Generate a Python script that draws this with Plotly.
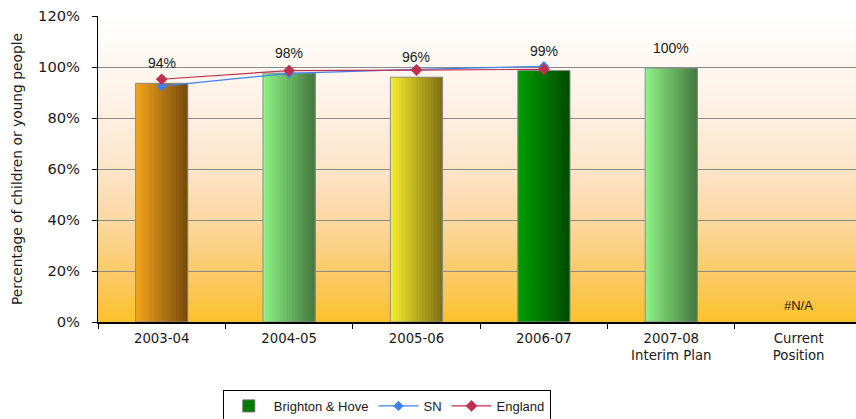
import base64
import struct
import zlib

import plotly.graph_objects as go

# ---------------- data ----------------
categories = ["2003-04", "2004-05", "2005-06", "2006-07",
              "2007-08<br>Interim Plan", "Current<br>Position"]
bh_values = [0.936, 0.976, 0.960, 0.986, 0.996, None]
bh_labels = ["94%", "98%", "96%", "99%", "100%", "#N/A"]
sn_values = [0.925, 0.975, 0.991, 1.003, None, None]
england_values = [0.952, 0.986, 0.988, 0.991, None, None]
y_tick_values = [0, 0.2, 0.4, 0.6, 0.8, 1.0, 1.2]
y_tick_labels = ["0%", "20%", "40%", "60%", "80%", "100%", "120%"]

# ---------------- styles ----------------
bar_left = ["#F2A31C", "#8CF084", "#F4EA2C", "#009C00", "#8CF084", "#FFFFFF"]
bar_right = ["#784C0C", "#467A40", "#807214", "#004C00", "#467A40", "#FFFFFF"]
BAR_W = 0.41
N_STRIPES = 18


def hex2rgb(h):
    h = h.lstrip("#")
    return tuple(int(h[i:i + 2], 16) for i in (0, 2, 4))


def mix_rgb(c1, c2, t):
    a, b = hex2rgb(c1), hex2rgb(c2)
    return tuple(round(a[i] + (b[i] - a[i]) * t) for i in range(3))


def mix(c1, c2, t):
    return "rgb(%d,%d,%d)" % mix_rgb(c1, c2, t)


def png_uri(rows):
    """rows: list of (r,g,b), top to bottom; produces a 2px-wide PNG."""
    raw = b"".join(b"\x00" + bytes(rgb) * 2 for rgb in rows)

    def chunk(tag, data):
        c = struct.pack(">I", len(data)) + tag + data
        return c + struct.pack(">I", zlib.crc32(tag + data) & 0xFFFFFFFF)

    png = (b"\x89PNG\r\n\x1a\n"
           + chunk(b"IHDR", struct.pack(">IIBBBBB", 2, len(rows), 8, 2, 0, 0, 0))
           + chunk(b"IDAT", zlib.compress(raw))
           + chunk(b"IEND", b""))
    return "data:image/png;base64," + base64.b64encode(png).decode()


# background gradient of the plot area (fraction from bottom -> colour)
bg_stops = [(0.00, "#FCC22A"), (0.08, "#FBC64C"), (0.17, "#FBCB6C"), (0.33, "#FCD8A2"),
            (0.50, "#FDE5C8"), (0.67, "#FDEFE0"), (0.83, "#FEF7F0"), (1.00, "#FFFFFF")]
bg_rows = []
n_bg = 300
for j in range(n_bg):
    f = 1 - (j + 0.5) / n_bg
    for s in range(len(bg_stops) - 1):
        if bg_stops[s][0] <= f <= bg_stops[s + 1][0]:
            t = (f - bg_stops[s][0]) / (bg_stops[s + 1][0] - bg_stops[s][0])
            bg_rows.append(mix_rgb(bg_stops[s][1], bg_stops[s + 1][1], t))
            break

fig = go.Figure()

# gradient stripes for each bar
for k in range(N_STRIPES):
    t = k / (N_STRIPES - 1)
    fig.add_trace(go.Bar(
        x=categories, y=bh_values,
        marker=dict(color=[mix(bar_left[i], bar_right[i], t) for i in range(len(categories))],
                    line=dict(width=0)),
        width=BAR_W - k * BAR_W / N_STRIPES,
        offset=-BAR_W / 2 + k * BAR_W / N_STRIPES,
        showlegend=False, hoverinfo="skip"))

# outline of each bar
fig.add_trace(go.Bar(
    x=categories, y=bh_values, width=BAR_W, offset=-BAR_W / 2,
    marker=dict(color="rgba(0,0,0,0)", line=dict(color="#8E8E8E", width=1)),
    showlegend=False, name="Brighton & Hove"))

# legend entry for the bars
fig.add_trace(go.Bar(
    x=[categories[0]], y=[None], name="Brighton & Hove",
    marker=dict(color="#007A00", line=dict(color="#6E6E6E", width=1))))

fig.add_trace(go.Scatter(
    x=categories, y=sn_values, name="SN", mode="lines+markers",
    line=dict(color="#3F82F2", width=1.2),
    marker=dict(symbol="diamond", size=8, color="#3F82F2")))

fig.add_trace(go.Scatter(
    x=categories, y=england_values, name="England", mode="lines+markers",
    line=dict(color="#C0304E", width=1.2),
    marker=dict(symbol="diamond", size=9, color="#C0304E")))

# value labels
annotations = []
for c, v, lab in zip(categories, bh_values, bh_labels):
    annotations.append(dict(
        x=c, y=v if v is not None else 0, text=lab, showarrow=False,
        xref="x", yref="y", yanchor="middle",
        yshift=20 if v is not None else 17,
        font=dict(family="Liberation Sans, Arial, sans-serif", size=14 if v is not None else 13,
                  color="#1A1A1A")))

fig.update_layout(
    width=856, height=419,
    margin=dict(l=98, r=0, t=16, b=97, autoexpand=False),
    paper_bgcolor="white", plot_bgcolor="rgba(0,0,0,0)",
    barmode="overlay",
    images=[dict(source=png_uri(bg_rows), xref="paper", yref="paper",
                 x=0, y=1, sizex=1, sizey=1, xanchor="left", yanchor="top",
                 sizing="stretch", layer="below")],
    annotations=annotations,
    font=dict(family="DejaVu Sans, Verdana, sans-serif", size=13, color="#1A1A1A"),
    showlegend=True,
    legend=dict(orientation="h", x=0.381, xanchor="center", y=-0.222, yanchor="top",
                bordercolor="#000000", borderwidth=1, bgcolor="white",
                font=dict(family="Liberation Sans, Arial, sans-serif", size=13),
                itemwidth=40, tracegroupgap=0),
    xaxis=dict(type="category", range=[-0.5, 5.45], automargin=False,
               showline=True, linecolor="#000000", linewidth=1.5,
               ticks="outside", ticklen=5, tickcolor="#000000", tickson="boundaries",
               ticklabelstandoff=3,
               showgrid=False, tickfont=dict(size=13.3)),
    yaxis=dict(range=[0, 1.2], tickvals=y_tick_values, ticktext=y_tick_labels,
               automargin=False,
               showline=True, linecolor="#000000", linewidth=1,
               ticks="outside", ticklen=5, tickcolor="#000000", ticklabelstandoff=9,
               showgrid=True, gridcolor="#8A8A8A", gridwidth=1, zeroline=False,
               tickfont=dict(size=14.7),
               title=dict(text="Percentage of children or young people",
                          font=dict(size=13.8), standoff=12)),
)

fig.write_html("out.html", config={"displayModeBar": False},
               post_script="document.body.style.margin='0px';")
